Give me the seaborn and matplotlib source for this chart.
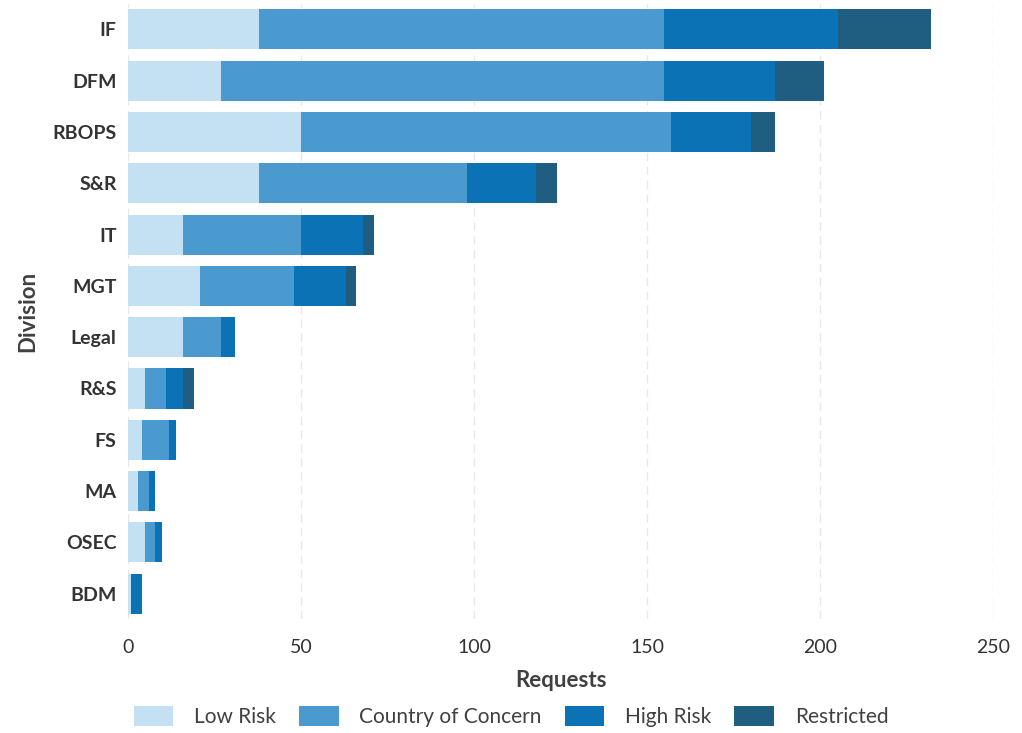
import numpy as np
import pandas as pd
import matplotlib
matplotlib.use("Agg")
import matplotlib.pyplot as plt
import seaborn as sns
from matplotlib.patches import Patch

divisions = ["IF", "DFM", "RBOPS", "S&R", "IT", "MGT", "Legal", "R&S", "FS", "MA", "OSEC", "BDM"]
low_risk = [38, 27, 50, 38, 16, 21, 16, 5, 4, 3, 5, 1]
country_of_concern = [117, 128, 107, 60, 34, 27, 11, 6, 8, 3, 3, 0]
high_risk = [50, 32, 23, 20, 18, 15, 4, 5, 2, 2, 2, 3]
restricted = [27, 14, 7, 6, 3, 3, 0, 3, 0, 0, 0, 0]

series_names = ["Low Risk", "Country of Concern", "High Risk", "Restricted"]
colors = ["#c4e1f4", "#4b9acf", "#0b72b6", "#1f5e80"]

sns.set_theme(style="white")
plt.rcParams["font.family"] = ["Lato", "DejaVu Sans"]

df = pd.DataFrame({
    "Division": divisions,
    "Low Risk": low_risk,
    "Country of Concern": country_of_concern,
    "High Risk": high_risk,
    "Restricted": restricted,
})
cum = df[series_names].cumsum(axis=1)
cum["Division"] = df["Division"]

fig, ax = plt.subplots(figsize=(10.22, 7.33), dpi=100)
fig.subplots_adjust(left=0.125, right=0.972, top=0.995, bottom=0.155)

for name, col in zip(reversed(series_names), reversed(colors)):
    sns.barplot(data=cum, y="Division", x=name, order=divisions, color=col,
                orient="h", width=0.78, ax=ax, saturation=1, linewidth=0,
                zorder=3)

ax.set_xlim(0, 250)
ax.set_ylim(11.5, -0.5)
ax.set_xticks([0, 50, 100, 150, 200, 250])
ax.xaxis.grid(True, color="#e8e8e8", linestyle=(0, (6, 4)), linewidth=1.0, zorder=0)
ax.yaxis.grid(False)
for s in ax.spines.values():
    s.set_visible(False)
ax.tick_params(axis="x", length=0, pad=14, labelsize=14, labelcolor="#333333")
ax.tick_params(axis="y", length=0, pad=8, labelsize=14, labelcolor="#333333")
for lab in ax.get_yticklabels():
    lab.set_fontweight("bold")

ax.set_xlabel("Requests", fontsize=16, fontweight="bold", color="#404040", labelpad=10)
ax.set_ylabel("Division", fontsize=16, fontweight="bold", color="#404040", labelpad=10)

handles = [Patch(facecolor=c, edgecolor="none", label=n) for n, c in zip(series_names, colors)]
fig.legend(handles=handles, loc="lower center", bbox_to_anchor=(0.5, -0.018), ncol=4,
           frameon=False, fontsize=15, handlelength=1.9, handleheight=1.1,
           handletextpad=1.0, columnspacing=1.1, labelcolor="#404040")

fig.savefig("out.png", dpi=100)
